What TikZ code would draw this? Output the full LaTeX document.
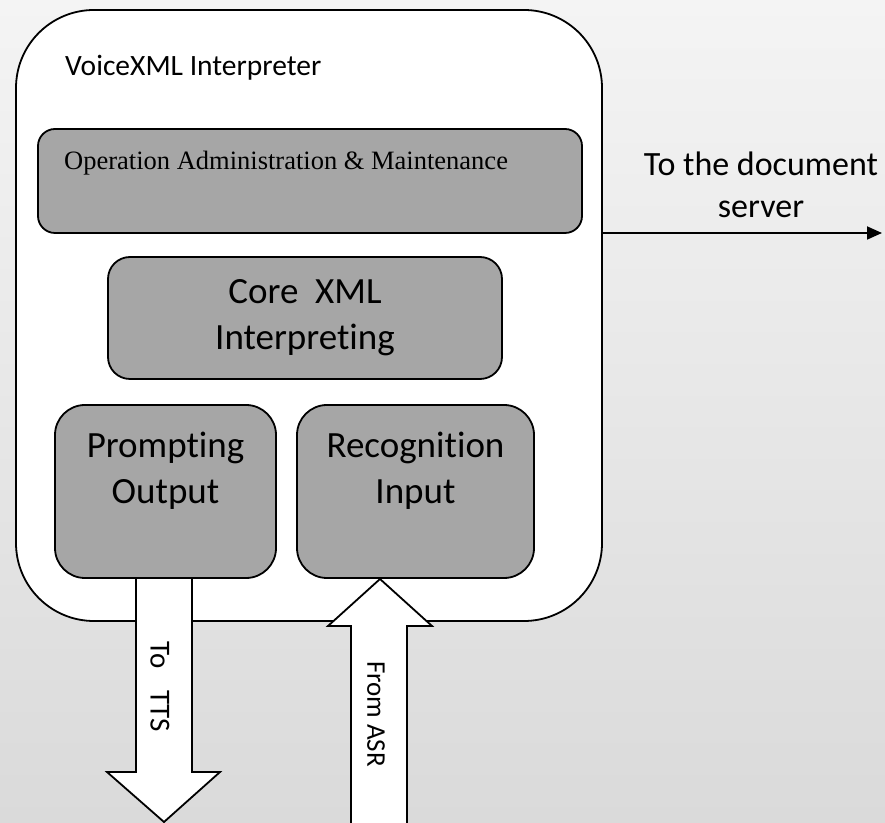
\documentclass[tikz,border=0pt]{standalone}
\usepackage{fontspec}
\setmainfont{Carlito}[Ligatures=CommonOff]
\newfontfamily\timesfont{Liberation Serif}
\usepackage{tikz}
\usetikzlibrary{positioning,arrows.meta}

\definecolor{bgtop}{RGB}{244,244,244}
\definecolor{bgbot}{RGB}{218,218,218}
\definecolor{blockgray}{RGB}{166,166,166}

\begin{document}
\begin{tikzpicture}[x=1pt,y=1pt,
                block/.style={draw, line width=1.8pt, fill=blockgray, inner sep=0pt},
                fatarrow/.style={draw, line width=1.8pt, fill=white, line join=miter},
                bigtext/.style={font=\fontsize{37}{46}\selectfont, align=center, inner sep=0pt}]
                % background
                \shade[top color=bgtop, bottom color=bgbot] (0,0) rectangle (885,822);
                \useasboundingbox (0,0) rectangle (885,822);

                \node[draw, line width=1.8pt, fill=white, rounded corners=78pt,
                      minimum width=586pt, minimum height=611pt] (vxi) at (309,506.5) {};
                \node[anchor=base west, inner sep=0pt, font=\fontsize{29.5}{35}\selectfont]
                      (vxititle) at (65,746) {VoiceXML Interpreter};

                % fat arrows to TTS and from ASR
                \coordinate (tts) at (164,0);
                \coordinate (asr) at (379,-10);
                \draw[fatarrow] (136,244) -- (136,50) -- (107,50) -- (tts)
                                -- (220,50) -- (192,50) -- (192,244);
                \draw[fatarrow] (351,-10) -- (351,196) -- (328,196) -- (380,243)
                                -- (432,196) -- (407,196) -- (407,-10);
                \node[rotate=-90, font=\fontsize{29}{34}\selectfont] (ttstext) at (160,135) {To\hspace{22pt}TTS};
                \node[rotate=-90, font=\fontsize{27}{34}\selectfont] (asrtext) at (376,108) {From ASR};

                \node[block, rounded corners=17pt, minimum width=544pt, minimum height=104pt]
                      (oam) at (310,641) {};
                \node[anchor=base west, inner sep=0pt, font=\timesfont\fontsize{26.5}{32}\selectfont]
                      (oamtext) at (64,652) {Operation Administration \& Maintenance};

                \node[block, bigtext, rounded corners=22pt, minimum width=394pt, minimum height=122pt]
                      (core) at (305,504) {Core\ \ XML\\Interpreting};

                \node[block, rounded corners=30pt, minimum width=221pt, minimum height=173pt]
                      (prompt) at (165.5,330.5) {};
                \node[block, rounded corners=30pt, minimum width=237pt, minimum height=173pt]
                      (recog) at (415.5,330.5) {};
                \node[bigtext, below=28pt of prompt.north] (prompttext) {Prompting\\Output};
                \node[bigtext, below=28pt of recog.north] (recogtext) {Recognition\\Input};

                % to the document server
                \coordinate (docsrv) at (882,589);
                \draw[line width=1.8pt, -{Triangle[length=15pt,width=13pt]}] (vxi.east |- docsrv) -- (docsrv);
                \node[bigtext, font=\fontsize{34}{42}\selectfont, anchor=south]
                      (srvtext) at (761,604) {To the document\\server};
            \end{tikzpicture}
\end{document}
